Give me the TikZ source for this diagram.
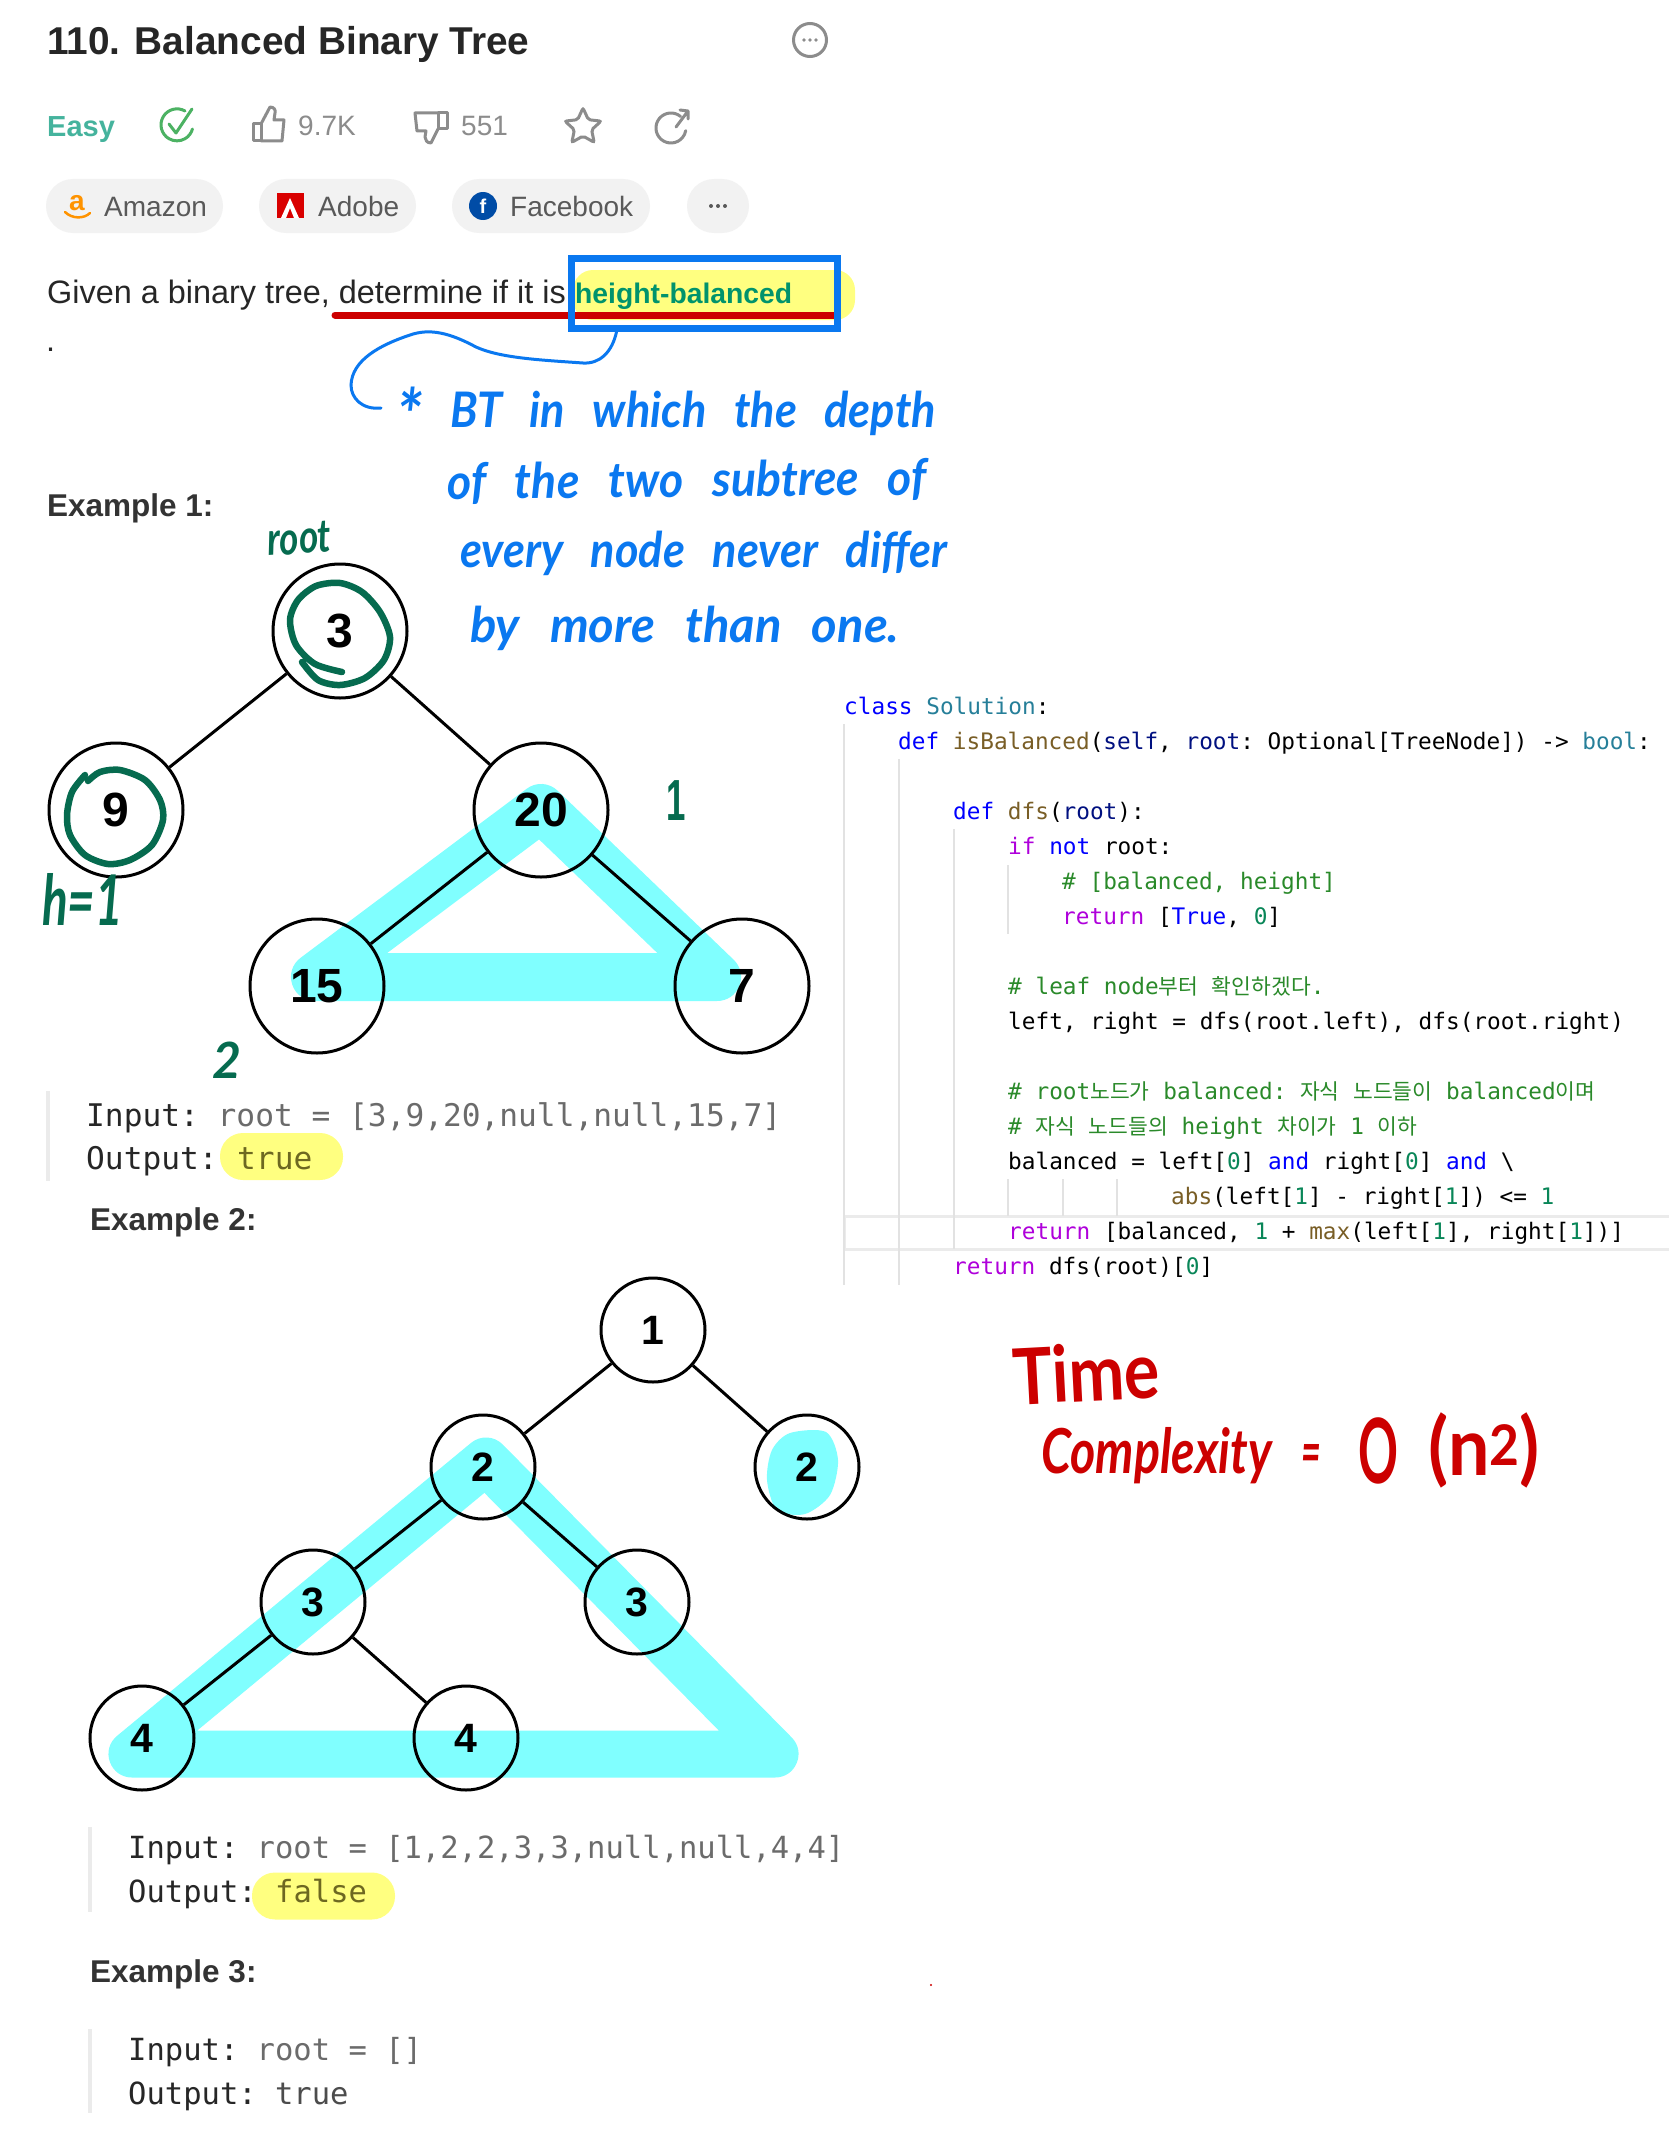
\documentclass[tikz,border=0pt]{standalone}
\usepackage{fontspec}
\usepackage{xcolor}
\setmainfont{Liberation Sans}
\setmonofont{DejaVu Sans Mono}
\newfontfamily\kofont{Noto Sans CJK KR}
\newfontfamily\handfont[WordSpace=2.8]{Lato}
\usetikzlibrary{positioning,shapes.geometric}
\definecolor{easyteal}{HTML}{45B39D}
\definecolor{checkgreen}{HTML}{4CB263}
\definecolor{icongray}{HTML}{8C8C8C}
\definecolor{pillgray}{HTML}{F2F2F2}
\definecolor{penblue}{HTML}{0A78F0}
\definecolor{pengreen}{HTML}{066B4F}
\definecolor{penred}{HTML}{CC0000}
\definecolor{bandcyan}{HTML}{80FFFF}
\definecolor{markyellow}{HTML}{FFFF80}
\definecolor{guidegray}{HTML}{E2E2E2}
\definecolor{kwblue}{HTML}{0000FF}
\definecolor{clsteal}{HTML}{267F99}
\definecolor{fnbrown}{HTML}{795E26}
\definecolor{parnavy}{HTML}{001080}
\definecolor{cmtgreen}{HTML}{2A8A2A}
\definecolor{ctlpurple}{HTML}{AF00DB}
\definecolor{numgreen}{HTML}{098658}
\newcommand{\kw}[1]{\textcolor{kwblue}{#1}}
\newcommand{\cls}[1]{\textcolor{clsteal}{#1}}
\newcommand{\fn}[1]{\textcolor{fnbrown}{#1}}
\newcommand{\prm}[1]{\textcolor{parnavy}{#1}}
\newcommand{\cmt}[1]{\textcolor{cmtgreen}{#1}}
\newcommand{\ctl}[1]{\textcolor{ctlpurple}{#1}}
\newcommand{\num}[1]{\textcolor{numgreen}{#1}}
\newcommand{\ko}[1]{{\kofont\fontsize{21.5pt}{21.5pt}\selectfont #1}}
\newcommand{\squeeze}[2]{\scalebox{#1}[1]{#2}}
\tikzset{
  treenode/.style={circle,draw,line width=3pt,inner sep=0pt,font=\fontsize{48pt}{48pt}\selectfont\bfseries},
  smalltree/.style={treenode,minimum size=104pt,font=\fontsize{41pt}{41pt}\selectfont\bfseries},
  bigtree/.style={treenode,minimum size=134pt},
  treeedge/.style={line width=3pt},
  cyanband/.style={draw=bandcyan,line width=48pt,line join=round},
  pill/.style={fill=pillgray,rounded corners=27pt,minimum height=54pt,inner sep=0pt},
  marker/.style={fill=markyellow,rounded corners=23pt,minimum height=47pt,inner sep=0pt},
  pilltext/.style={anchor=base west,inner sep=0pt,text=black!65,font=\fontsize{28pt}{28pt}\selectfont},
  heading/.style={anchor=base west,inner sep=0pt,text=black!80,font=\fontsize{31.5pt}{31.5pt}\selectfont\bfseries},
  bodytext/.style={anchor=base west,inner sep=0pt,text=black!85,font=\fontsize{32.4pt}{32.4pt}\selectfont},
  iotext/.style={anchor=base west,inner sep=0pt,text=black!85,font=\fontsize{31.2pt}{31.2pt}\selectfont\ttfamily},
  iosmall/.style={iotext,font=\fontsize{30.5pt}{30.5pt}\selectfont\ttfamily},
  iobar/.style={line width=4.5pt,draw=black!8},
  codeline/.style={anchor=base west,inner sep=0pt,font=\fontsize{22.73pt}{22.73pt}\selectfont\ttfamily},
  guide/.style={line width=1.5pt,draw=guidegray},
  iconline/.style={draw=icongray,line width=3pt,line join=round,line cap=round},
  bluepen/.style={anchor=base west,inner sep=0pt,text=penblue,font=\handfont\itshape\bfseries\fontsize{49pt}{49pt}\selectfont},
  greenpen/.style={anchor=base west,inner sep=0pt,text=pengreen,font=\handfont\itshape\bfseries\fontsize{46pt}{46pt}\selectfont},
  redpen/.style={anchor=base west,inner sep=0pt,text=penred,font=\handfont\itshape\bfseries\fontsize{62pt}{62pt}\selectfont},
  greenstroke/.style={draw=pengreen,line width=6.5pt,line cap=round,line join=round}
}
\begin{document}
\begin{tikzpicture}[x=1pt,y=-1pt]
\useasboundingbox (0,0) rectangle (1668,2154);
\fill[white] (0,0) rectangle (1668,2154);

\node[anchor=base west,inner sep=0pt,text=black!85,font=\fontsize{38.8pt}{38.8pt}\selectfont\bfseries] (title) at (47,55) {110. Balanced Binary Tree};
\node[circle,draw=icongray,line width=3pt,minimum size=33pt,inner sep=0pt] (more) at (810,40) {};
\foreach \dx in {-6,0,6}{\fill[icongray] (810+\dx,40) circle (1.8pt);}

\node[anchor=base west,inner sep=0pt,text=easyteal,font=\fontsize{29pt}{29pt}\selectfont\bfseries] (easy) at (47,137) {Easy};
\draw[draw=checkgreen,line width=3pt,line cap=round] (185,111) arc[start angle=60,end angle=345,radius=16pt];
\draw[draw=checkgreen,line width=3pt,line cap=round,line join=round] (169,124) -- (176,133) -- (192,109);
\draw[iconline] (253,124) rectangle (261,141);
\draw[iconline] (261,124) -- (270,107) .. controls (274,107) and (276,110) .. (275,113) -- (274,120) -- (284,120) -- (282,141) -- (261,141);
\node[anchor=base west,inner sep=0pt,text=icongray,font=\fontsize{28pt}{28pt}\selectfont] (likes) at (298,136) {9.7K};
\draw[iconline] (438,113) rectangle (447,129);
\draw[iconline] (438,129) -- (431,143) .. controls (427,143) and (425,140) .. (425,137) -- (426,131) -- (417,131) -- (415,113) -- (438,113);
\node[anchor=base west,inner sep=0pt,text=icongray,font=\fontsize{28pt}{28pt}\selectfont] (dislikes) at (461,136) {551};
\node[star,star points=5,star point ratio=2.1,draw=icongray,line width=3pt,minimum size=38pt,inner sep=0pt,rounded corners=2pt] (favstar) at (583,127) {};
\draw[iconline] (680.6,116.5) arc[start angle=50,end angle=350,radius=15pt];
\draw[iconline] (676,127) -- (688,111) (680,110) -- (688,111) -- (688,119);

\node[pill,minimum width=177pt] (amazon) at (134.5,206) {};
\node[pill,minimum width=157pt] (adobe) at (337.5,206) {};
\node[pill,minimum width=198pt] (facebook) at (551,206) {};
\node[pill,minimum width=62pt] (dots) at (718,206) {};
\node[pilltext] (amazontext) at (104,216) {Amazon};
\node[pilltext] (adobetext) at (318,216) {Adobe};
\node[pilltext] (facebooktext) at (510,216) {Facebook};
\foreach \dx in {-7,0,7}{\fill[black!65] (718+\dx,206) circle (2pt);}
\node[anchor=base,inner sep=0pt,text=orange!85!yellow,font=\fontsize{28pt}{28pt}\selectfont\bfseries] (amazonicon) at (77,211) {a};
\draw[draw=orange!85!yellow,line width=2.5pt,line cap=round] (65,212) .. controls (72,219) and (84,219) .. (90,213);
\fill[red!85!black] (277,193) rectangle (304,218);
\fill[white] (290,198) -- (299,218) -- (294,218) -- (290,208) -- (286,218) -- (281,218) -- cycle;
\node[circle,fill=blue!50!black!70!cyan,minimum size=28pt,inner sep=0pt,text=white,font=\fontsize{20pt}{20pt}\selectfont\bfseries] (fbicon) at (483,206) {f};

\node[fill=markyellow,rounded corners=20pt,minimum width=282pt,minimum height=50pt,inner sep=0pt] (hbmark) at (714,295) {};
\node[bodytext] (given) at (47,303) {Given a binary tree, determine if it is};
\node[anchor=base west,inner sep=0pt,text=teal!85!green,font=\fontsize{28.3pt}{28.3pt}\selectfont\bfseries] (hbword) at (575,303) {height-balanced};
\node[bodytext] (period) at (46,351) {.};
\draw[draw=penred,line width=7pt,line cap=round] (335,315) -- (834,315);
\node[draw=penblue,line width=7pt,minimum width=266pt,minimum height=70pt,inner sep=0pt] (hbbox) at (704.5,293.5) {};
\coordinate (hbtail) at (381,408);
\draw[draw=penblue,line width=3pt,line cap=round] ([xshift=-88pt]hbbox.south) .. controls (612,352) and (600,364) .. (583,363) .. controls (540,360) and (500,358) .. (476,347) .. controls (450,333) and (430,328) .. (410,335) .. controls (380,345) and (352,360) .. (351,385) .. controls (351,398) and (362,410) .. (hbtail);

\node[bluepen] (blue1) at (396,427) {\squeeze{0.92}{\raisebox{-14pt}{\fontsize{72pt}{72pt}\selectfont *} BT in which the depth}};
\node[bluepen,rotate=0.5] (blue2) at (447,499) {\squeeze{0.95}{of the two subtree of}};
\node[bluepen] (blue3) at (460,567) {\squeeze{0.92}{every node never differ}};
\node[bluepen] (blue4) at (470,642) {\squeeze{1.0}{by more than one.}};

\node[heading] (example1) at (47,516) {Example 1:};

% first tree
\draw[cyanband] (315,977) -- (541,808) -- (717,977) -- cycle;
\foreach \name/\px/\py/\val in {threeroot/340/631/3,nine/116/810/9,twenty/541/810/20,fifteen/317/986/15,seven/742/986/7}{
  \node[bigtree] (\name) at (\px,\py) {\val};}
\foreach \a/\b in {threeroot/nine,threeroot/twenty,twenty/fifteen,twenty/seven}{
  \draw[treeedge] (\a) -- (\b);}
\draw[greenstroke] plot[smooth] coordinates {(342,672) (315,664) (296,645) (290,620) (298,600) (316,586) (340,583) (362,592) (380,612) (390,637) (384,660) (365,678) (340,685) (318,680) (302,662)};
\draw[greenstroke] plot[smooth] coordinates {(88,781) (100,772) (120,770) (145,780) (160,800) (163,820) (152,845) (130,860) (108,864) (85,855) (70,835) (67,815) (72,792) (85,775)};
\node[greenpen,rotate=4] (rootmark) at (268,556) {\squeeze{0.8}{root}};
\node[greenpen,font=\handfont\itshape\bfseries\fontsize{70pt}{70pt}\selectfont] (hmark) at (42,925) {\squeeze{0.68}{h=1}};
\node[greenpen,font=\bfseries\fontsize{58pt}{58pt}\selectfont] (onemark) at (666,820) {\squeeze{0.6}{1}};
\node[greenpen,font=\handfont\itshape\bfseries\fontsize{50pt}{50pt}\selectfont] (twomark) at (212,1078) {2};

\draw[iobar] (48,1091) -- (48,1181);
\node[marker,minimum width=123pt] (truemark) at (281.5,1156.5) {};
\node[iotext] (input1) at (86,1126) {Input: \textcolor{black!58}{root = [3,9,20,null,null,15,7]}};
\node[iotext] (output1) at (86,1169) {Output:};
\node[iotext,text=olive!70!black] (true1) at (237,1169) {true};

\node[heading] (example2) at (90,1230) {Example 2:};

% second tree
\draw[cyanband,line width=47pt] (132,1754) -- (486,1461) -- (775,1754) -- cycle;
\fill[bandcyan] plot[smooth cycle] coordinates {(790,1433) (826,1432) (838,1460) (830,1495) (805,1514) (777,1510) (767,1480) (772,1450)};
\foreach \name/\px/\py/\val in {oneroot/653/1330/1,twoleft/483/1467/2,tworight/807/1467/2,threeleft/313/1602/3,threeright/637/1602/3,fourleft/142/1738/4,fourright/466/1738/4}{
  \node[smalltree] (\name) at (\px,\py) {\val};}
\foreach \a/\b in {oneroot/twoleft,oneroot/tworight,twoleft/threeleft,twoleft/threeright,threeleft/fourleft,threeleft/fourright}{
  \draw[treeedge] (\a) -- (\b);}

\draw[iobar] (90,1827) -- (90,1912);
\node[marker,minimum width=143pt] (falsemark) at (323.5,1896) {};
\node[iosmall] (input2) at (128,1858) {Input: \textcolor{black!58}{root = [1,2,2,3,3,null,null,4,4]}};
\node[iosmall] (output2) at (128,1902) {Output:};
\node[iosmall,text=olive!70!black] (false2) at (275,1902) {false};

\node[heading] (example3) at (90,1982) {Example 3:};
\draw[iobar] (90,2029) -- (90,2113);
\node[iosmall] (input3) at (128,2060) {Input: \textcolor{black!58}{root = []}};
\node[iosmall] (output3) at (128,2104) {Output: \textcolor{black!70}{true}};

% solution code
\draw[draw=black!8,line width=3pt,fill=white] (844,1216) rectangle (1672,1249);
\draw[guide] (844,724) -- (844,1285);
\draw[guide] (899,759) -- (899,1285);
\draw[guide] (954,829) -- (954,1249);
\draw[guide] (1008,865) -- (1008,934);
\foreach \gx in {1008,1063,1117}{\draw[guide] (\gx,1179) -- (\gx,1216);}
\node[codeline] (code0) at (844,714) {\kw{class} \cls{Solution}:};
\node[codeline] (code1) at (898,749) {\kw{def} \fn{isBalanced}(\prm{self}, \prm{root}: Optional[TreeNode]) -> \cls{bool}:};
\node[codeline] (code3) at (953,819) {\kw{def} \fn{dfs}(\prm{root}):};
\node[codeline] (code4) at (1008,854) {\ctl{if} \kw{not} root:};
\node[codeline] (code5) at (1062,889) {\cmt{\# [balanced, height]}};
\node[codeline] (code6) at (1062,924) {\ctl{return} [\kw{True}, \num{0}]};
\node[codeline] (code8) at (1008,994) {\cmt{\# leaf node\ko{부터} \ko{확인하겠다}.}};
\node[codeline] (code9) at (1008,1029) {left, right = dfs(root.left), dfs(root.right)};
\node[codeline] (code11) at (1008,1099) {\cmt{\# root\ko{노드가} balanced: \ko{자식} \ko{노드들이} balanced\ko{이며}}};
\node[codeline] (code12) at (1008,1134) {\cmt{\# \ko{자식} \ko{노드들의} height \ko{차이가} 1 \ko{이하}}};
\node[codeline] (code13) at (1008,1169) {balanced = left[\num{0}] \kw{and} right[\num{0}] \kw{and} \textbackslash};
\node[codeline] (code14) at (1171,1204) {\fn{abs}(left[\num{1}] - right[\num{1}]) <= \num{1}};
\node[codeline] (code15) at (1008,1239) {\ctl{return} [balanced, \num{1} + \fn{max}(left[\num{1}], right[\num{1}])]};
\node[codeline] (code16) at (953,1274) {\ctl{return} dfs(root)[\num{0}]};

\node[redpen,font=\handfont\bfseries\fontsize{78pt}{78pt}\selectfont,rotate=3] (timemark) at (1014,1405) {\squeeze{0.85}{Time}};
\node[redpen] (complexity) at (1041,1473) {\squeeze{0.78}{Complexity}};
\node[redpen] (equals) at (1301,1473) {\squeeze{0.55}{=}};
\node[redpen,font=\handfont\bfseries\fontsize{90pt}{90pt}\selectfont] (bigo) at (1358,1483) {\squeeze{0.55}{O}};
\node[redpen,font=\handfont\bfseries\fontsize{80pt}{80pt}\selectfont] (nsquared) at (1428,1475) {\squeeze{0.92}{(n\textsuperscript{2})}};
\fill[penred] (931,1985) circle (1.2pt);
\end{tikzpicture}
\end{document}
